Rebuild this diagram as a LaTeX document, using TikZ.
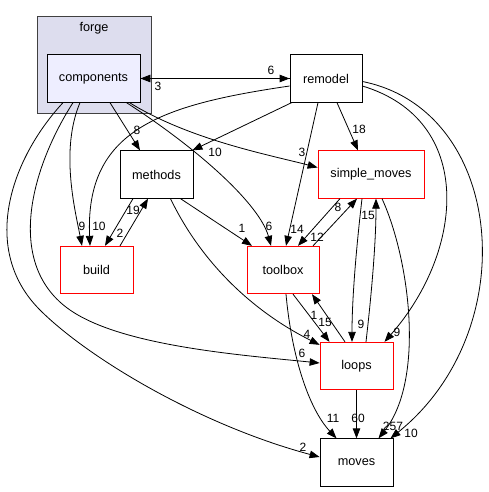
\documentclass[tikz,border=0pt]{standalone}
\usepackage{fontspec}
\setmainfont{Liberation Sans}
\usetikzlibrary{arrows.meta,positioning}
\definecolor{clusterbg}{HTML}{DDDDEE}
\definecolor{clusterln}{HTML}{404040}
\definecolor{dirbg}{HTML}{EEEEFF}
\definecolor{dirred}{HTML}{FF0000}
\tikzset{
  dep/.style={-{Triangle[length=10pt,width=7.5pt]},line width=0.8pt,black},
  dir/.style={draw=black,line width=0.8pt,fill=white,minimum width=73pt,minimum height=47.5pt,inner sep=0pt,font=\fontsize{12.7}{14}\selectfont},
  dirx/.style={dir,draw=dirred},
  num/.style={inner sep=0pt,font=\fontsize{12}{14}\selectfont}
}
\begin{document}
\begin{tikzpicture}[x=1pt,y=-1pt]
\useasboundingbox (0,0) rectangle (488,492);
\node[draw=clusterln,line width=0.8pt,fill=clusterbg,minimum width=114pt,minimum height=97pt] (forge) at (94,64.5) {};
\node[font=\fontsize{12.7}{14}\selectfont] (forgelbl) at (94,28) {forge};
\node[dir,fill=dirbg,minimum width=93pt] (components) at (93.5,78.5) {components};
\node[dir,minimum width=72pt] (remodel) at (326,78.5) {remodel};
\node[dirx,minimum width=106pt] (simple) at (371,174.5) {simple\_moves};
\node[dir] (methods) at (156.5,174.5) {methods};
\node[dirx] (build) at (96.5,270) {build};
\node[dirx,minimum width=72pt] (toolbox) at (283,270) {toolbox};
\node[dirx] (loops) at (356.5,366) {loops};
\node[dir] (moves) at (356.5,462.5) {moves};
\draw[dep] (components.east) -- (remodel.west);
\draw[dep] (remodel.west) -- (components.east);
\draw[dep] ([xshift=16.5pt]components.south) -- ([xshift=-16.5pt]methods.north);
\draw[dep] ([xshift=2pt]remodel.south west) -- ([xshift=-1pt]methods.north east);
\draw[dep] ([xshift=36pt]components.south) .. controls (190,140) and (270,155) .. ([yshift=7pt]simple.west);
\draw[dep] ([xshift=33pt]components.south) .. controls (200,150) and (260,205) .. ([xshift=-12pt]toolbox.north);
\draw[dep] ([xshift=-8pt]remodel.south) -- ([xshift=3pt]toolbox.north);
\draw[dep] ([xshift=11pt]remodel.south) -- ([xshift=-13pt]simple.north);
\draw[dep] ([yshift=-7.5pt]remodel.west) .. controls (160,105) and (85,130) .. ([xshift=-6.5pt]build.north);
\draw[dep] ([xshift=-13.5pt]components.south) .. controls (60,150) and (75,210) .. ([xshift=-14.5pt]build.north);
\draw[dep] ([xshift=-23.5pt]methods.south) -- ([xshift=8.5pt]build.north);
\draw[dep] ([xshift=23.5pt]build.north) -- ([xshift=-8.5pt]methods.south);
\draw[dep] ([xshift=24pt]methods.south) -- ([xshift=-31pt]toolbox.north);
\draw[dep] ([xshift=14pt]methods.south) .. controls (200,260) and (250,310) .. ([yshift=-3pt]loops.north west);
\draw[dep] ([xshift=-20.5pt]components.south) .. controls (30,170) and (5,265) .. (70,310) .. controls (122,346) and (240,355) .. ([yshift=3pt]loops.west);
\draw[dep] ([xshift=-30.5pt]components.south) .. controls (10,160) and (-20,250) .. (40,310) .. controls (88,358) and (200,425) .. ([yshift=5.5pt]moves.west);
\draw[dep] ([xshift=-31pt]simple.south) -- ([xshift=15pt]toolbox.north);
\draw[dep] ([xshift=30pt]toolbox.north) -- ([xshift=-14pt]simple.south);
\draw[dep] ([xshift=-9pt]simple.south) .. controls (356,250) and (352,300) .. ([xshift=-4.5pt]loops.north);
\draw[dep] ([xshift=9.5pt]loops.north) .. controls (372,290) and (376,240) .. ([xshift=5pt]simple.south);
\draw[dep] ([xshift=10pt]toolbox.south) -- ([xshift=-27pt]loops.north);
\draw[dep] ([xshift=-11.5pt]loops.north) -- ([xshift=29pt]toolbox.south);
\draw[dep] ([yshift=-7.5pt]remodel.east) .. controls (475,120) and (465,250) .. ([xshift=28pt]loops.north);
\draw[dep] ([yshift=-3pt]remodel.east) .. controls (505,110) and (525,330) .. ([xshift=34pt]moves.north);
\draw[dep] ([xshift=11pt]simple.south) .. controls (410,260) and (425,380) .. ([xshift=22pt]moves.north);
\draw[dep] (loops.south) -- (moves.north);
\draw[dep] ([xshift=3pt]toolbox.south) .. controls (292,360) and (310,410) .. ([xshift=-20pt]moves.north);
\node[num] (n1) at (271,70) {6};
\node[num] (n2) at (158,86) {3};
\node[num] (n3) at (137,130) {8};
\node[num] (n4) at (215,152) {10};
\node[num] (n5) at (302,152) {3};
\node[num] (n6) at (269,226) {6};
\node[num] (n7) at (297,229) {14};
\node[num] (n8) at (359,129) {18};
\node[num] (n9) at (99,226) {10};
\node[num] (n10) at (82,226) {9};
\node[num] (n11) at (120,233) {2};
\node[num] (n12) at (133,210) {19};
\node[num] (n13) at (242,228) {1};
\node[num] (n14) at (307,334) {4};
\node[num] (n15) at (302,353) {6};
\node[num] (n16) at (303,447) {2};
\node[num] (n17) at (317,237) {12};
\node[num] (n18) at (338,207) {8};
\node[num] (n19) at (361,324) {9};
\node[num] (n20) at (368,215) {15};
\node[num] (n21) at (325,322) {15};
\node[num] (n22) at (314,315) {1};
\node[num] (n23) at (397,332) {9};
\node[num] (n25) at (393,426) {257};
\node[num] (n24) at (411,433) {10};
\node[num] (n26) at (358,418) {60};
\node[num] (n27) at (333,418) {11};
\end{tikzpicture}
\end{document}
